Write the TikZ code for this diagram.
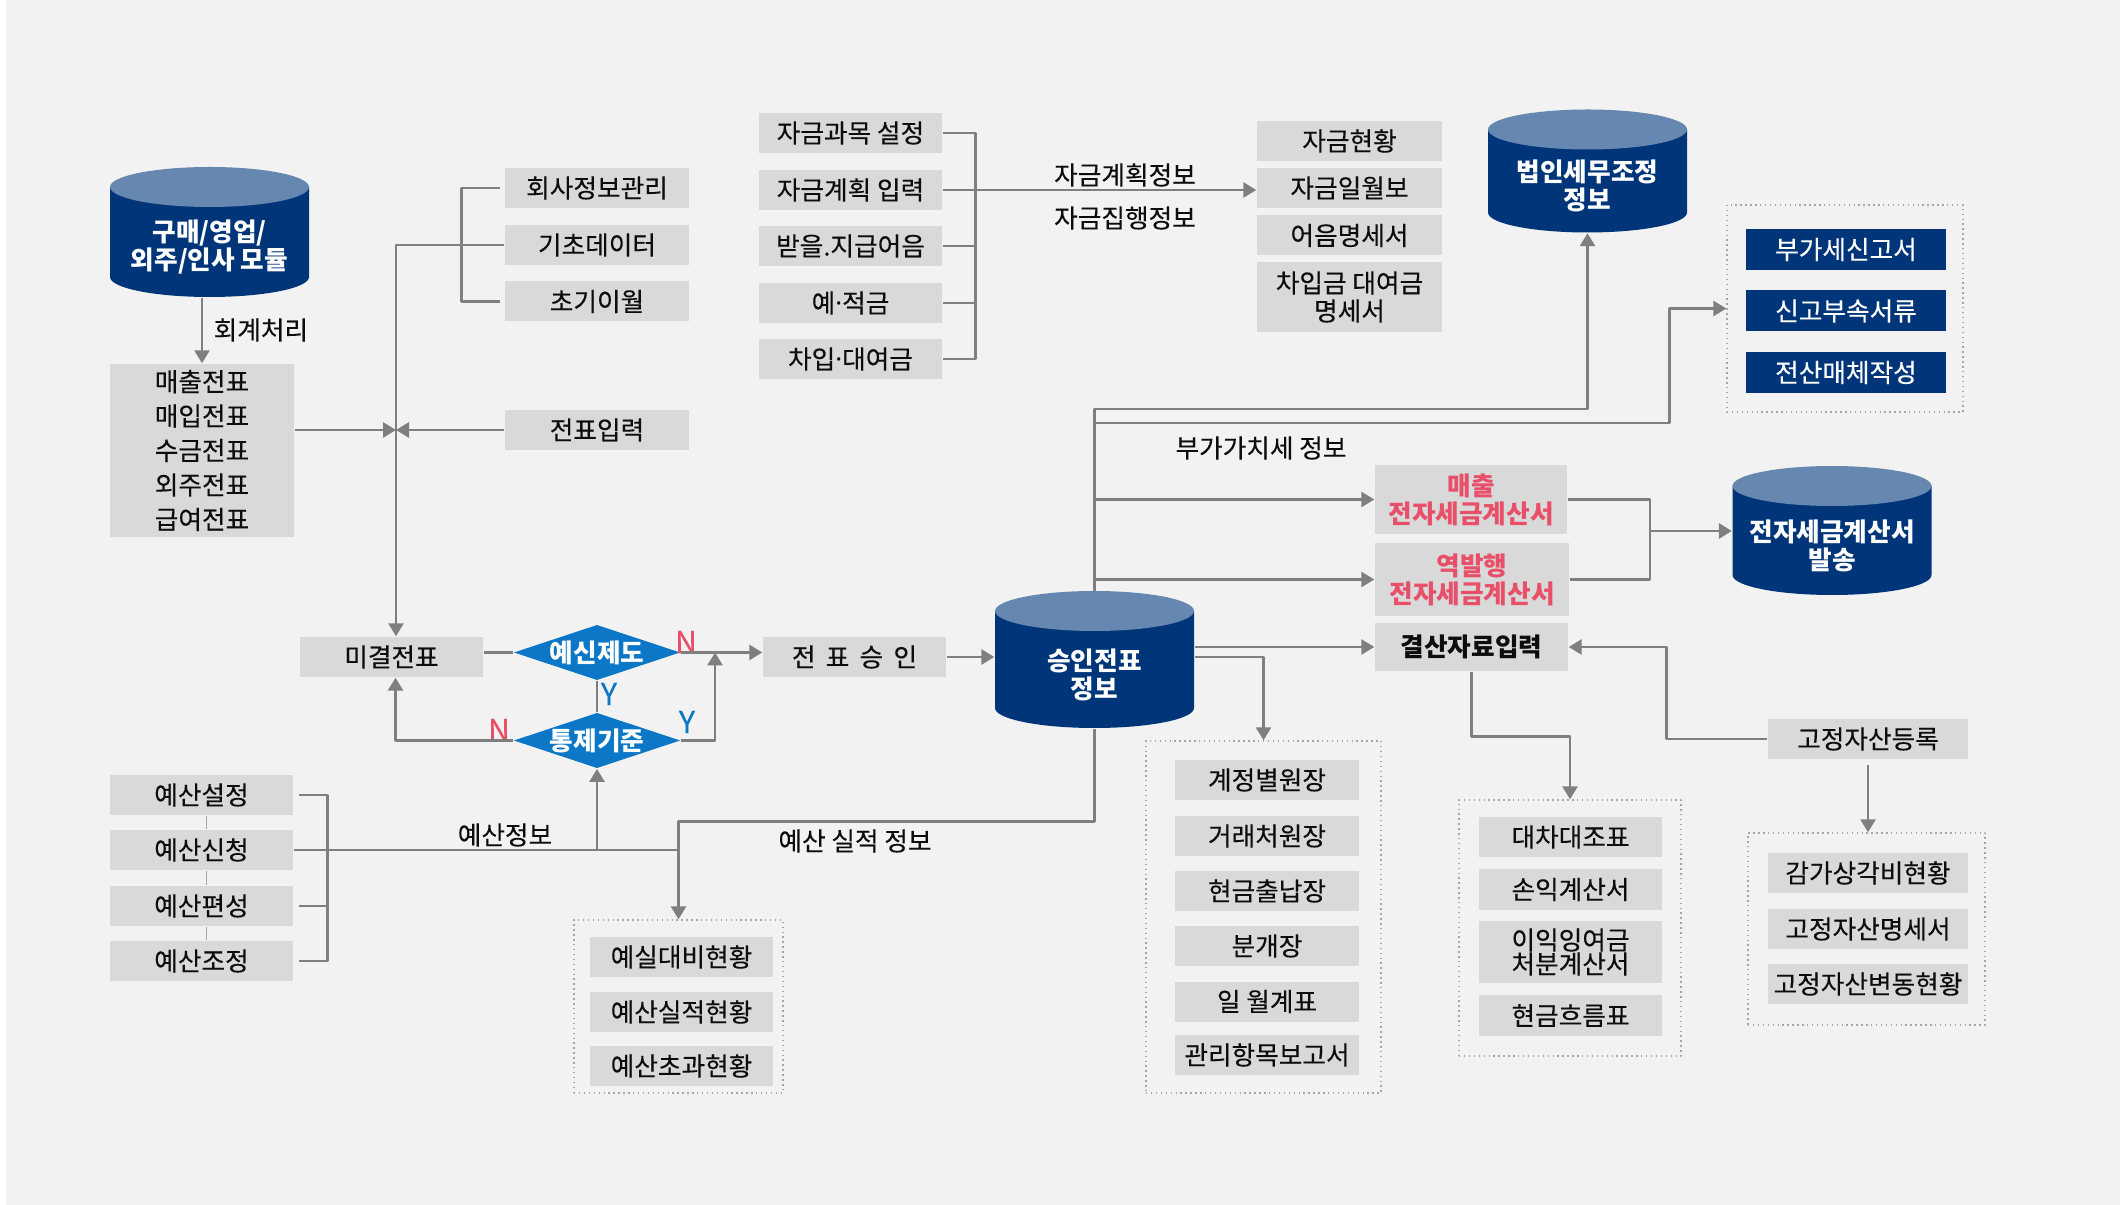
\documentclass[tikz,border=0pt]{standalone}
\usepackage{fontspec}
\setmainfont{Noto Sans CJK KR}[UprightFeatures={FakeBold=0.3}]
\newfontfamily\latinf{Noto Sans}
\usetikzlibrary{arrows.meta,shapes.geometric}
\definecolor{nen}{HTML}{F2F2F2}
\definecolor{xamhop}{HTML}{D9D9D9}
\definecolor{xamduong}{HTML}{7F7F7F}
\definecolor{xamvien}{HTML}{A6A6A6}
\definecolor{xanhdam}{HTML}{003679}
\definecolor{xanhnhat}{HTML}{6688B0}
\definecolor{xanhthoi}{HTML}{0B77C6}
\definecolor{dohong}{HTML}{E8506A}
\definecolor{chuden}{HTML}{0D0D0D}
\newcommand{\chu}{\fontsize{7.3}{8}\selectfont}
\def\rx{0.995}
\def\ry{0.2}
%==Hình trụ: tên, x tâm, y đỉnh, y đáy, chữ
\newcommand{\trudl}[5]{%
  \fill[xanhdam] ({#2-\rx},#3) -- ({#2-\rx},#4) arc[start angle=180,end angle=0,x radius=\rx,y radius=\ry] -- ({#2+\rx},#3) -- cycle;
  \fill[xanhnhat] (#2,#3) ellipse[x radius=\rx,y radius=\ry];
  \coordinate (#1-top) at (#2,{#3-\ry});
  \node[trutext,minimum height={(#4-#3+\ry-0.1)*1cm}] (#1) at (#2,{(#3+#4+\ry)/2+0.05}) {#5};}
\tikzset{
  hop/.style={fill=xamhop,minimum width=1.84cm,minimum height=0.40cm,inner sep=0pt,font=\chu,text=chuden,align=center},
  hopxanh/.style={hop,fill=xanhdam,text=white,minimum width=2cm,minimum height=0.41cm},
  trutext/.style={text=white,font=\chu\bfseries,align=center,minimum width=1.99cm,inner sep=0pt},
  thoi/.style={diamond,aspect=3,fill=xanhthoi,text=white,font=\chu\bfseries,inner sep=0pt,minimum width=1.6cm,minimum height=0.53cm},
  khung/.style={draw=xamvien,densely dotted,line width=0.4pt,inner sep=0pt},
  nhan/.style={font=\chu,text=chuden,inner sep=0pt},
  yn/.style={font=\fontsize{8.6}{9}\selectfont,inner sep=0pt},
  ln/.style={draw=xamduong,line width=0.8pt},
  mui/.style={-{Triangle[length=1.3mm,width=1.5mm]}}
}
\begin{document}
\begin{tikzpicture}[x=1cm,y=-1cm,line join=round]
\fill[white] (0,0) rectangle (21.2,12.05);
\fill[nen] (0.06,0) rectangle (21.2,12.05);
\useasboundingbox (0,0) rectangle (21.2,12.05);
%==Hình trụ
\trudl{modul}{2.095}{1.87}{2.77}{구매/영업/\\외주/인사 모듈}
\trudl{seungin}{10.945}{6.11}{7.08}{승인전표\\정보}
\trudl{beobin}{15.875}{1.295}{2.125}{법인세무조정\\정보}
\trudl{jeonja}{18.32}{4.86}{5.75}{전자세금계산서\\발송}
%==Khung chấm
\node[khung,minimum width=2.35cm,minimum height=3.52cm] (kwonjang) at (12.635,9.17) {};
\node[khung,minimum width=2.22cm,minimum height=2.56cm] (kjemu) at (15.70,9.28) {};
\node[khung,minimum width=2.37cm,minimum height=1.92cm] (kjasan) at (18.665,9.29) {};
\node[khung,minimum width=2.36cm,minimum height=2.07cm] (kbugase) at (18.45,3.085) {};
\node[khung,minimum width=2.09cm,minimum height=1.73cm] (kbogo) at (6.785,10.065) {};
%==Hộp
\node[hop,minimum height=1.73cm,font=\fontsize{7.3}{9.8}\selectfont] (jeonpyo) at (2.02,4.505) {매출전표\\매입전표\\수금전표\\외주전표\\급여전표};
\foreach \ten/\y/\t in {hoesa/1.88/회사정보관리, gicho/2.45/기초데이터, chogi/3.015/초기이월, ipryeok/4.30/전표입력}
  \node[hop] (\ten) at (5.97,\y) {\t};
\foreach \ten/\y/\t in {jagum1/1.33/자금과목 설정, jagum2/1.90/자금계획 입력, jagum3/2.46/받을.지급어음, jagum4/3.03/예{\latinf ·}적금, jagum5/3.59/차입{\latinf ·}대여금}
  \node[hop,minimum width=1.83cm] (\ten) at (8.505,\y) {\t};
\foreach \ten/\y/\t in {hyeon1/1.41/자금현황, hyeon2/1.88/자금일월보, hyeon3/2.355/어음명세서}
  \node[hop,minimum width=1.85cm] (\ten) at (13.495,\y) {\t};
\node[hop,minimum width=1.85cm,minimum height=0.70cm] (hyeon4) at (13.495,2.97) {차입금 대여금\\명세서};
\foreach \ten/\y/\t in {bugase1/2.495/부가세신고서, bugase2/3.11/신고부속서류, bugase3/3.725/전산매체작성}
  \node[hopxanh] (\ten) at (18.46,\y) {\t};
\node[hop,minimum width=1.83cm] (migyeol) at (3.915,6.57) {미결전표};
\node[thoi] (yesin) at (5.97,6.525) {예신제도};
\node[thoi] (tongje) at (5.97,7.405) {통제기준};
\node[hop,minimum width=1.83cm] (pyoseung) at (8.545,6.57) {\spaceskip=0.4em 전 표 승 인};
\node[hop,minimum width=1.92cm,minimum height=0.69cm,text=dohong,font=\chu\bfseries] (maechul) at (14.71,4.995) {매출\\전자세금계산서};
\node[hop,minimum width=1.94cm,minimum height=0.73cm,text=dohong,font=\chu\bfseries] (yeokbal) at (14.72,5.795) {역발행\\전자세금계산서};
\node[hop,minimum width=1.93cm,minimum height=0.48cm,font=\chu\bfseries] (gyeolsan) at (14.715,6.47) {결산자료입력};
\node[hop,minimum width=2cm] (gojeong) at (18.68,7.39) {고정자산등록};
\foreach \ten/\y/\t in {yesan1/7.95/예산설정, yesan2/8.50/예산신청, yesan3/9.06/예산편성, yesan4/9.61/예산조정}
  \node[hop,minimum width=1.83cm] (\ten) at (2.015,\y) {\t};
\foreach \y/\t [count=\i] in {9.57/예실대비현황, 10.12/예산실적현황, 10.66/예산초과현황}
  \node[hop,minimum width=1.83cm] (bogo\i) at (6.815,\y) {\t};
\foreach \y/\t [count=\i] in {7.80/계정별원장, 8.36/거래처원장, 8.91/현금출납장, 9.46/분개장, 10.015/일 월계표, 10.55/관리항목보고서}
  \node[hop] (wonjang\i) at (12.67,\y) {\t};
\node[hop,minimum width=1.83cm] (jemu1) at (15.705,8.37) {대차대조표};
\node[hop,minimum width=1.83cm,minimum height=0.41cm] (jemu2) at (15.705,8.895) {손익계산서};
\node[hop,minimum width=1.83cm,minimum height=0.62cm,font=\fontsize{7.3}{6.8}\selectfont] (jemu3) at (15.705,9.52) {이익잉여금\\처분계산서};
\node[hop,minimum width=1.83cm,minimum height=0.41cm] (jemu4) at (15.705,10.155) {현금흐름표};
\foreach \y/\t [count=\i] in {8.73/감가상각비현황, 9.29/고정자산명세서, 9.84/고정자산변동현황}
  \node[hop,minimum width=2cm] (jasan\i) at (18.68,\y) {\t};
%==Nhãn
\node[nhan,anchor=west] (hoegye) at (2.13,3.30) {회계처리};
\node[nhan] (gyehoek) at (11.25,1.75) {자금계획정보};
\node[nhan] (jiphaeng) at (11.25,2.18) {자금집행정보};
\node[nhan] (bugachi) at (12.61,4.48) {부가가치세 정보};
\node[nhan] (yesanjb) at (5.05,8.35) {예산정보};
\node[nhan] (silijb) at (8.55,8.41) {예산 실적 정보};
\node[yn,text=dohong] (n1) at (6.86,6.42) {N};
\node[yn,text=xanhthoi] (y1) at (6.09,6.94) {Y};
\node[yn,text=xanhthoi] (y2) at (6.87,7.22) {Y};
\node[yn,text=dohong] (n2) at (4.99,7.30) {N};
%==Đường nối
\draw[ln,mui] (jeonpyo.north |- modul.south) -- (jeonpyo.north);
\draw[ln] ([xshift=-.04cm]hoesa.west) -- ++(-0.39,0) |- ([xshift=-.04cm]chogi.west);
\coordinate (giao) at ([xshift=.045cm]migyeol.north |- ipryeok.west);
\draw[ln,mui] (gicho.west) -| ([xshift=.045cm]migyeol.north);
\draw[ln,mui] (jeonpyo.east |- giao) -- (giao);
\draw[ln,mui] (ipryeok.west) -- (giao);
\draw[ln] (jagum1.east) -- ++(0.33,0) |- (jagum5.east);
\foreach \b in {jagum3,jagum4} \draw[ln] (\b.east) -- ++(0.33,0);
\draw[ln,mui] (jagum2.east) -- (jagum2.east -| hyeon2.west);
\draw[ln] (migyeol.east |- yesin.west) -- (yesin.west);
\draw[ln,mui] (yesin.east) -- (yesin.east -| pyoseung.west);
\draw[ln] (yesin.south) -- (tongje.north);
\coordinate (nhap) at ([xshift=0.34cm]yesin.east);
\draw[ln,mui] (tongje.east) -| (nhap);
\draw[ln,mui] (tongje.west) -| ([xshift=.04cm]migyeol.south);
\draw[ln,mui] (pyoseung.east) -- (pyoseung.east -| seungin.west);
\draw[ln,mui] (seungin-top) |- (beobin.south |- 0,4.09) -- (beobin.south);
\draw[ln,mui] (seungin-top |- 0,4.23) -| ([xshift=-0.57cm]kbugase.west) -- (kbugase.west);
\draw[ln,mui] (seungin-top |- maechul.west) -- (maechul.west);
\draw[ln,mui] (seungin-top |- yeokbal.west) -- (yeokbal.west);
\draw[ln,mui] (seungin.east |- gyeolsan.west) -- (gyeolsan.west);
\draw[ln,mui] (seungin.east |- pyoseung.east) -| (kwonjang.north);
\draw[ln,mui] (seungin.south) -- ++(0,0.93) -| (kbogo.north);
\draw[ln] (yesan2.east) -- (yesan2.east -| kbogo.north);
\draw[ln,mui] (tongje.south |- yesan2.east) -- (tongje.south);
\draw[ln] ([xshift=.05cm]yesan1.east) -- ++(0.29,0) |- ([xshift=.05cm]yesan4.east);
\draw[ln] ([xshift=.05cm]yesan3.east) -- ++(0.29,0);
\foreach \a/\b in {yesan1/yesan2,yesan2/yesan3,yesan3/yesan4}
  \draw[xamvien,line width=0.4pt] ([xshift=.05cm]\a.south) -- ([xshift=.05cm]\b.north);
\coordinate (gop) at (16.50,5.31);
\draw[ln] (maechul.east) -| (gop) |- (yeokbal.east);
\draw[ln,mui] (gop) -- (gop -| jeonja.west);
\draw[ln,mui] (gyeolsan.south) -- ++(0,0.65) -| (kjemu.north);
\draw[ln,mui] (gojeong.west) -- ++(-1.01,0) |- (gyeolsan.east);
\draw[ln,mui] ([yshift=-.05cm]gojeong.south) -- (gojeong.south |- kjasan.north);
\end{tikzpicture}
\end{document}
